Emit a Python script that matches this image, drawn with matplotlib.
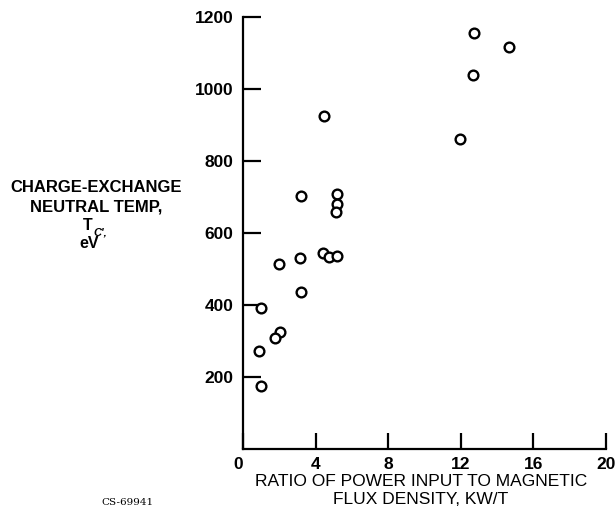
import matplotlib
matplotlib.use("Agg")
import matplotlib.pyplot as plt

# power/flux ratio (kW/T) and charge-exchange neutral temperature (eV)
ratio = [12.74, 14.67, 12.65, 4.48, 11.94, 3.20, 5.20, 5.16, 5.12, 4.43,
         4.74, 5.20, 3.14, 1.98, 3.18, 0.97, 2.04, 1.76, 0.90, 0.99]
temp = [1156, 1117, 1038, 924, 861, 704, 707, 680, 657, 545,
        534, 536, 531, 515, 435, 393, 324, 307, 271, 176]

xticks = [0, 4, 8, 12, 16, 20]
yticks = [200, 400, 600, 800, 1000, 1200]

fonts = ['Liberation Sans', 'DejaVu Sans']

fig = plt.figure(figsize=(6.16, 5.30), dpi=100)
ax = fig.add_axes([0.3945, 0.1528, 0.5893, 0.8151])

ax.plot(ratio, temp, 'o', mfc='white', mec='black', ms=7, mew=1.7,
        linestyle='none', clip_on=False)

ax.set_xlim(0, 20)
ax.set_ylim(0, 1200)
ax.set_xticks(xticks)
ax.set_yticks(yticks)
ax.set_xticklabels([str(t) for t in xticks], family=fonts, weight='bold', fontsize=12.5)
ax.set_yticklabels([str(t) for t in yticks], family=fonts, weight='bold', fontsize=12.5)
ax.get_xticklabels()[0].set_horizontalalignment('right')

for s in ['top', 'right']:
    ax.spines[s].set_visible(False)
for s in ['left', 'bottom']:
    ax.spines[s].set_linewidth(1.6)

ax.tick_params(axis='y', direction='in', length=13, width=1.6, pad=7)
ax.tick_params(axis='x', direction='in', length=11.5, width=1.6, pad=6)

fig.text(0.683, 0.091, 'RATIO OF POWER INPUT TO MAGNETIC', ha='center', va='center',
         family=fonts, fontsize=12.5)
fig.text(0.683, 0.057, 'FLUX DENSITY, KW/T', ha='center', va='center',
         family=fonts, fontsize=12.5)

fig.text(0.156, 0.647, 'CHARGE-EXCHANGE', ha='center', va='center',
         family=fonts, weight='bold', fontsize=12)
fig.text(0.156, 0.609, 'NEUTRAL TEMP,', ha='center', va='center',
         family=fonts, weight='bold', fontsize=12)
fig.text(0.143, 0.575, 'T', ha='center', va='center',
         family=fonts, weight='bold', fontsize=11.5)
fig.text(0.152, 0.562, "C',", ha='left', va='center',
         family=fonts, weight='bold', style='italic', fontsize=8)
fig.text(0.144, 0.540, 'eV', ha='center', va='center',
         family=fonts, weight='bold', fontsize=11.5)

fig.text(0.207, 0.051, 'CS-69941', ha='center', va='center',
         family='DejaVu Serif', fontsize=7.5)

fig.savefig('out.png', dpi=100)
